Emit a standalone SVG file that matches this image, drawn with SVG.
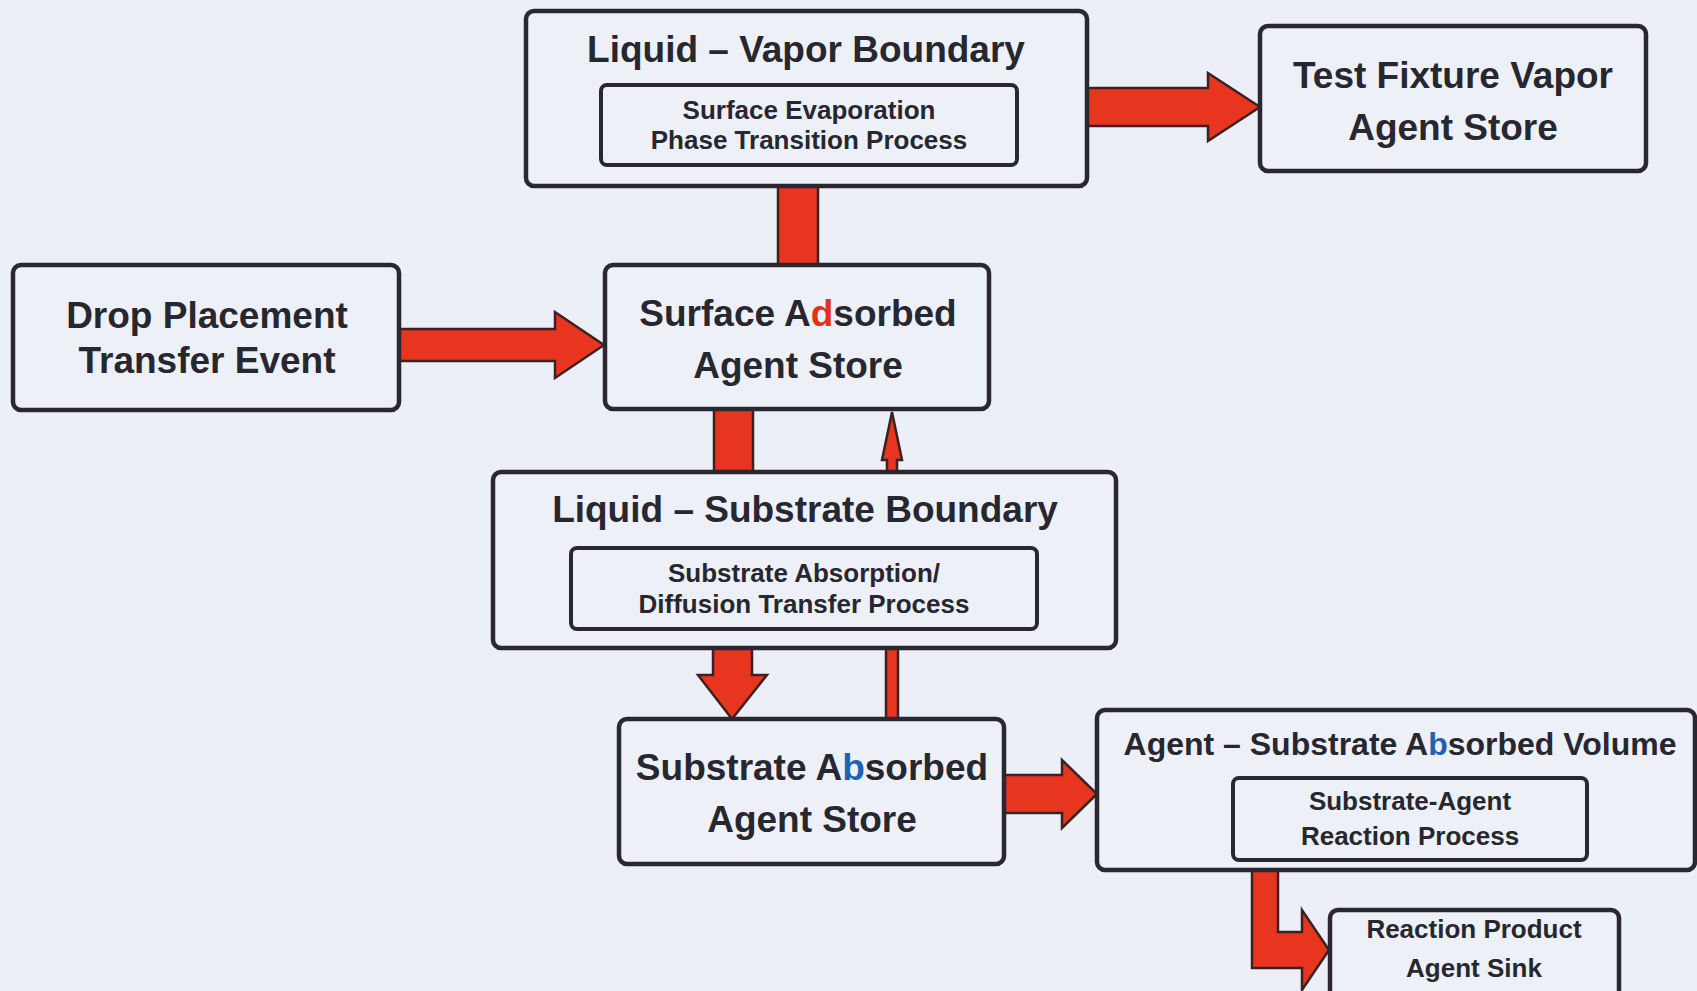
<svg xmlns="http://www.w3.org/2000/svg" width="1697" height="991" viewBox="0 0 1697 991">
<style>
.box{fill:#eef0f8;stroke:#2b2730;stroke-width:4.5}
.inner{fill:#eef0f8;stroke:#2b2730;stroke-width:4}
.arrow{fill:#e8351f;stroke:#3a2222;stroke-width:2.5;stroke-linejoin:miter}
.t{font-family:"Liberation Sans",Arial,sans-serif;font-weight:bold;fill:#27272f;text-anchor:middle}
.big{font-size:37px}
.mid{font-size:32px}
.sm{font-size:26px}
.red{fill:#e2311d}
.blue{fill:#1c62b5}
</style>
<rect x="0" y="0" width="1697" height="991" fill="#edeff7"/>
<g id="connectors">
<path class="arrow" d="M1087,88 H1208 V73 L1260,107 L1208,141 V126 H1087 Z"/>
<path class="arrow" d="M399,329 H555 V312 L604,345 L555,378 V361 H399 Z"/>
<rect class="arrow" x="778" y="186" width="40" height="79"/>
<rect class="arrow" x="714" y="409" width="39" height="63"/>
<path class="arrow" d="M887,472 V460 H882 L892,412 L902,460 H897 V472 Z"/>
<rect class="arrow" x="886" y="648" width="12" height="71"/>
<path class="arrow" d="M713,648 V675 H698 L732,719 L767,675 H752 V648 Z"/>
<path class="arrow" d="M1003,775 H1062 V760 L1097,794 L1062,828 V813 H1003 Z"/>
<path class="arrow" d="M1252,870 V968 H1302 V990 L1329,950 L1302,910 V932 H1278 V870 Z"/>
</g>
<g id="liquid-vapor-boundary">
<rect class="box" x="526" y="11" width="561" height="175" rx="8"/>
<text class="t big" x="806" y="62">Liquid – Vapor Boundary</text>
<g id="surface-evaporation">
<rect class="inner" x="601" y="85" width="416" height="80" rx="6"/>
<text class="t sm" x="809" y="119">Surface Evaporation</text>
<text class="t sm" x="809" y="149">Phase Transition Process</text>
</g>
</g>
<g id="test-fixture-vapor">
<rect class="box" x="1260" y="26" width="386" height="145" rx="8"/>
<text class="t big" x="1453" y="88">Test Fixture Vapor</text>
<text class="t big" x="1453" y="140">Agent Store</text>
</g>
<g id="drop-placement">
<rect class="box" x="13" y="265" width="386" height="145" rx="8"/>
<text class="t big" x="207" y="328">Drop Placement</text>
<text class="t big" x="207" y="373">Transfer Event</text>
</g>
<g id="surface-adsorbed">
<rect class="box" x="605" y="265" width="384" height="144" rx="8"/>
<text class="t big" x="798" y="326">Surface A<tspan class="red">d</tspan>sorbed</text>
<text class="t big" x="798" y="378">Agent Store</text>
</g>
<g id="liquid-substrate-boundary">
<rect class="box" x="493" y="472" width="623" height="176" rx="8"/>
<text class="t big" x="805" y="522">Liquid – Substrate Boundary</text>
<g id="substrate-absorption">
<rect class="inner" x="571" y="548" width="466" height="81" rx="6"/>
<text class="t sm" x="804" y="582">Substrate Absorption/</text>
<text class="t sm" x="804" y="613">Diffusion Transfer Process</text>
</g>
</g>
<g id="substrate-absorbed">
<rect class="box" x="619" y="719" width="385" height="145" rx="8"/>
<text class="t big" x="812" y="780">Substrate A<tspan class="blue">b</tspan>sorbed</text>
<text class="t big" x="812" y="832">Agent Store</text>
</g>
<g id="agent-substrate-volume">
<rect class="box" x="1097" y="710" width="598" height="160" rx="8"/>
<text class="t mid" x="1400" y="755">Agent – Substrate A<tspan class="blue">b</tspan>sorbed Volume</text>
<g id="substrate-agent-reaction">
<rect class="inner" x="1233" y="778" width="354" height="82" rx="6"/>
<text class="t sm" x="1410" y="810">Substrate-Agent</text>
<text class="t sm" x="1410" y="845">Reaction Process</text>
</g>
</g>
<g id="reaction-product">
<rect class="box" x="1330" y="910" width="289" height="100" rx="8"/>
<text class="t sm" x="1474" y="938">Reaction Product</text>
<text class="t sm" x="1474" y="977">Agent Sink</text>
</g>
</svg>
